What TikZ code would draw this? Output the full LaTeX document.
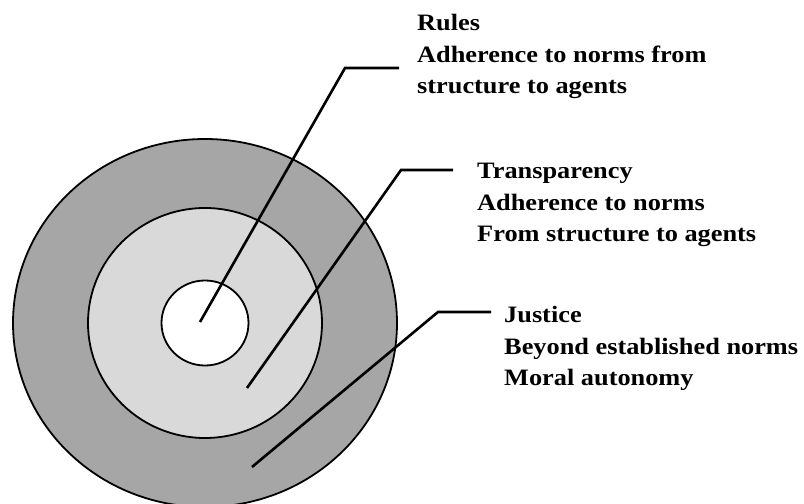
\documentclass[tikz,border=0pt]{standalone}
\usepackage{fontspec}
\setmainfont{Liberation Serif}
\newfontfamily\labelfont[FakeStretch=1.12]{Liberation Serif}
\begin{document}
\begin{tikzpicture}[x=1bp,y=-1bp,
  ring/.style={draw=black,line width=1.8bp},
  leader/.style={draw=black,line width=2.6bp,line join=miter},
  label/.style={anchor=north west,inner sep=0pt,align=left,
    font=\labelfont\bfseries\fontsize{23.5bp}{31.5bp}\selectfont}]
\useasboundingbox[fill=white] (0,0) rectangle (804,504);
\clip (0,0) rectangle (804,504);
\coordinate (c) at (205,323);
\path[ring,fill=black!35] (c) ellipse [x radius=192,y radius=184];
\path[ring,fill=black!15] (c) ellipse [x radius=117,y radius=115];
\path[ring,fill=white] (c) ellipse [x radius=43.5,y radius=42.5];

\node[label] (rules) at (417,14) {Rules\\Adherence to norms from\\structure to agents};
\node[label] (transp) at (477,163) {Transparency\\Adherence to norms\\From structure to agents};
\node[label] (just) at (504,306) {Justice\\Beyond established norms\\Moral autonomy};

\coordinate (r0) at (200,322);
\coordinate (r1) at (345,68);
\coordinate (r2) at (399,68);
\coordinate (t0) at (247,388);
\coordinate (t1) at (401,170);
\coordinate (t2) at (453,170);
\coordinate (j0) at (252,467);
\coordinate (j1) at (438,312);
\coordinate (j2) at (491,312);
\draw[leader] (r0) -- (r1) -- (r2);
\draw[leader] (t0) -- (t1) -- (t2);
\draw[leader] (j0) -- (j1) -- (j2);
\end{tikzpicture}
\end{document}
